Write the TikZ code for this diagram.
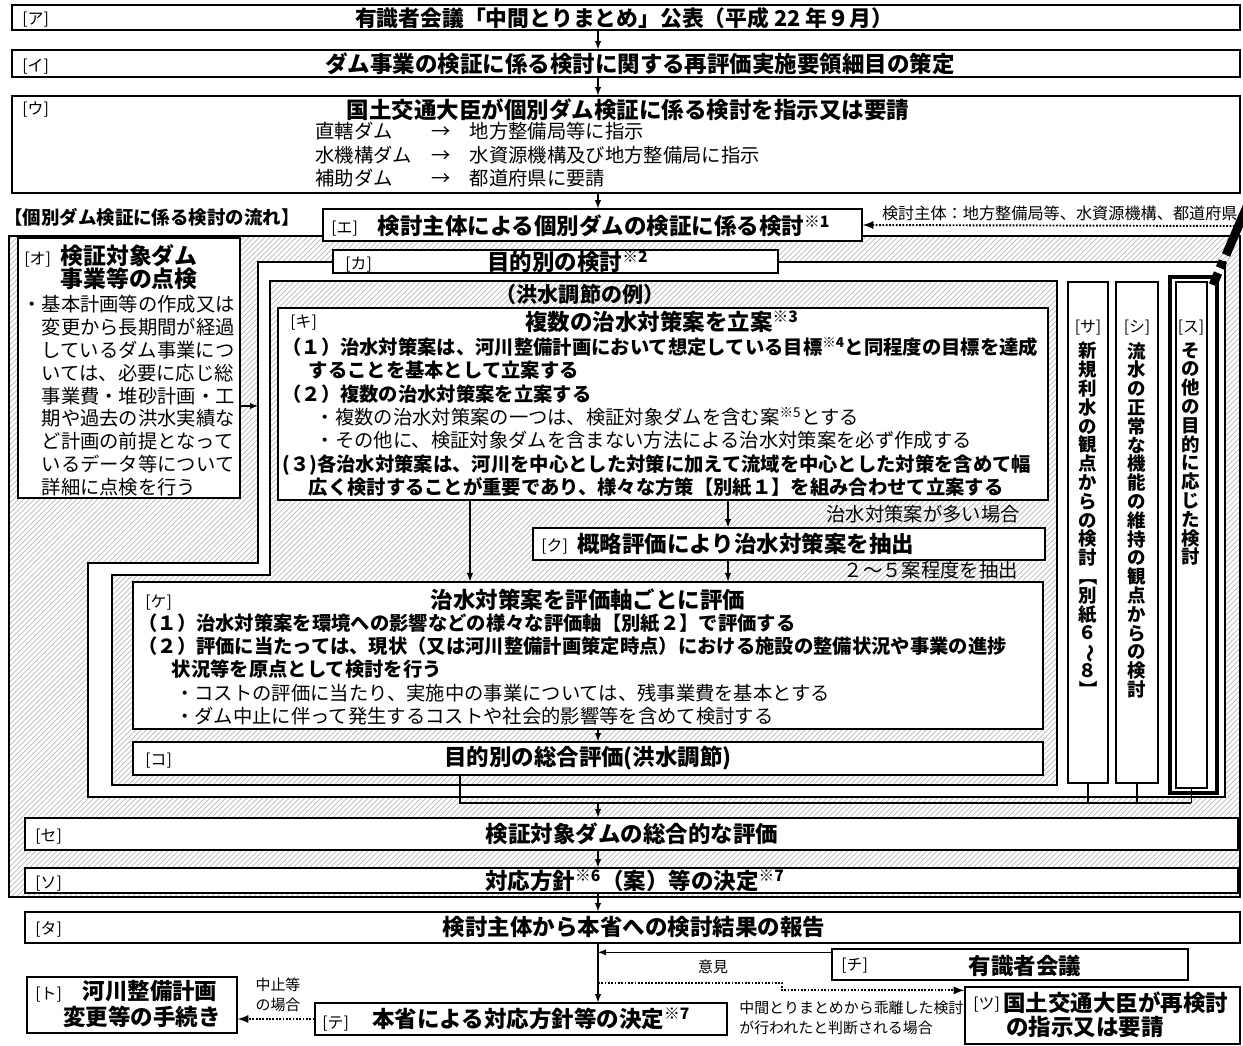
\documentclass[tikz,border=0pt]{standalone}
\usepackage{fontspec}
\setmainfont{Noto Sans CJK JP}
\usepackage{graphicx}
\usetikzlibrary{positioning}
\usetikzlibrary{fit}
\usetikzlibrary{patterns}
\newcommand{\kome}[1]{\textsuperscript{※#1}}
\newcommand{\tateparen}[1]{\rotatebox[origin=c]{-90}{#1}}
\tikzset{box/.style = {draw, line width=0.8pt, fill=white, inner sep=0pt}}
\tikzset{hatch/.style = {draw, line width=0.8pt, pattern=north east lines, pattern color=gray!55}}
\tikzset{tag/.style = {inner sep=0pt, yshift=-1.6pt, font=\fontsize{9}{10}\selectfont}}
\tikzset{head/.style = {inner sep=0pt, font=\bfseries\fontsize{12.8}{13.2}\selectfont}}
\tikzset{body/.style = {inner sep=0pt, align=left, font=\bfseries\fontsize{11}{13.3}\selectfont}}
\tikzset{thin-body/.style = {inner sep=0pt, align=left, font=\fontsize{11}{13}\selectfont}}
\tikzset{note/.style = {inner sep=0pt, align=left, font=\fontsize{8.5}{11.3}\selectfont}}
\tikzset{tate/.style = {inner sep=0pt, anchor=north, align=center, text width=12pt, font=\bfseries\fontsize{10.5}{10.7}\selectfont}}
\tikzset{arr/.style = {semithick, -latex}}
\tikzset{dotarr/.style = {line width=1.1pt, dash pattern=on 1pt off 0.9pt, -latex}}

\begin{document}
\begin{tikzpicture}[x=0.02cm, y=-0.02cm]
\useasboundingbox (0,0) rectangle (1243,1045);
\coordinate (spine) at (598,0);
\coordinate (kx1) at (470,0);
\coordinate (kx2) at (728,0);

% frames: outer hatched, white frame of [カ], hatched frame of the example
\node[hatch, inner sep=0pt, fit={(9,236) (1240,897)}] (outer) {};
\draw[fill=white, line width=0.8pt] (258,262) -- (1225,262) -- (1225,797) -- (88,797) -- (88,563) -- (258,563) -- cycle;
\draw[hatch] (270,281) -- (1057,281) -- (1057,785) -- (112,785) -- (112,575) -- (270,575) -- cycle;

\node[box, fit={(12,5) (1240,30)}] (kouhyou) {};
\node[tag, anchor=west] (tkouhyou) at (22,17) {[ア]};
\node[head, font=\bfseries\fontsize{12.4}{13}\selectfont] (hkouhyou) at (624,18) {有識者会議「中間とりまとめ」公表（平成 22 年９月）};

\node[box, fit={(12,50) (1240,77)}] (saimoku) {};
\node[tag, anchor=west] (tsaimoku) at (22,64) {[イ]};
\node[head] (hsaimoku) at (640,64) {ダム事業の検証に係る検討に関する再評価実施要領細目の策定};

\node[box, fit={(12,96) (1240,193)}] (shiji) {};
\node[tag, anchor=west] (tshiji) at (22,107) {[ウ]};
\node[head] (hshiji) at (628,110) {国土交通大臣が個別ダム検証に係る検討を指示又は要請};
\node[inner sep=0pt, anchor=north west, font=\fontsize{11}{13.3}\selectfont] (lshiji) at (315,122) {%
  \begin{tabular}{@{}p{66pt}@{}p{22pt}@{}l@{}}
  直轄ダム & → & 地方整備局等に指示\\
  水機構ダム & → & 水資源機構及び地方整備局に指示\\
  補助ダム & → & 都道府県に要請
  \end{tabular}};

\node[anchor=west, inner sep=0pt, font=\bfseries\fontsize{10.5}{12}\selectfont] (nagare) at (4,217) {【個別ダム検証に係る検討の流れ】};

\node[box, fit={(323,209) (862,241)}] (kentou) {};
\node[tag, anchor=west] (tkentou) at (331,226) {[エ]};
\node[head] (hkentou) at (604,226) {検討主体による個別ダムの検証に係る検討\kome{1}};
\node[inner sep=0pt, anchor=east, font=\fontsize{9.2}{10}\selectfont] (lshutai) at (1238,213) {検討主体：地方整備局等、水資源機構、都道府県};
\coordinate (shutai) at (1238,226);

\node[box, fit={(18,238) (240,498)}] (tenken) {};
\node[tag, anchor=west] (ttenken) at (24,257) {[オ]};
\node[head, align=center, font=\bfseries\fontsize{13}{13.2}\selectfont] (htenken) at (129,267) {検証対象ダム\\事業等の点検};
\node[thin-body, anchor=north west] (ltenken) at (22,295) {・基本計画等の作成又は\\
\hspace*{1em}変更から長期間が経過\\
\hspace*{1em}しているダム事業につ\\
\hspace*{1em}いては、必要に応じ総\\
\hspace*{1em}事業費・堆砂計画・工\\
\hspace*{1em}期や過去の洪水実績な\\
\hspace*{1em}ど計画の前提となって\\
\hspace*{1em}いるデータ等について\\
\hspace*{1em}詳細に点検を行う};
\coordinate (kaleft) at (258,406);

\node[box, fit={(333,250) (778,273)}] (mokuteki) {};
\node[tag, anchor=west] (tmokuteki) at (345,262) {[カ]};
\node[head] (hmokuteki) at (568,262) {目的別の検討\kome{2}};
\node[head, font=\bfseries\fontsize{12}{13}\selectfont] (rei) at (580,294) {（洪水調節の例）};

\node[box, fit={(278,308) (1048,500)}] (rian) {};
\node[tag, anchor=west] (trian) at (290,320) {[キ]};
\node[head] (hrian) at (662,322) {複数の治水対策案を立案\kome{3}};
\node[body, anchor=north west] (lrian) at (282,337) {%
（１）治水対策案は、河川整備計画において想定している目標\kome{4}と同程度の目標を達成\\
\hspace*{15pt}することを基本として立案する\\
（２）複数の治水対策案を立案する\\
\hspace*{19pt}{\mdseries ・複数の治水対策案の一つは、検証対象ダムを含む案\kome{5}とする}\\
\hspace*{19pt}{\mdseries ・その他に、検証対象ダムを含まない方法による治水対策案を必ず作成する}\\
(３)各治水対策案は、河川を中心とした対策に加えて流域を中心とした対策を含めて幅\\
\hspace*{15pt}広く検討することが重要であり、様々な方策【別紙１】を組み合わせて立案する};

\node[box, fit={(533,528) (1045,560)}] (chuushutsu) {};
\node[tag, anchor=west] (tchuushutsu) at (541,544) {[ク]};
\node[head, anchor=west] (hchuushutsu) at (577,544) {概略評価により治水対策案を抽出};
\node[thin-body, anchor=east] (ooi) at (1020,514) {治水対策案が多い場合};
\node[thin-body, anchor=east] (teido) at (1018,570) {２～５案程度を抽出};

\node[box, fit={(133,582) (1043,729)}] (hyouka) {};
\node[tag, anchor=west] (thyouka) at (145,600) {[ケ]};
\node[head] (hhyouka) at (588,600) {治水対策案を評価軸ごとに評価};
\node[body, anchor=north west] (lhyouka) at (138,613) {%
（１）治水対策案を環境への影響などの様々な評価軸【別紙２】で評価する\\
（２）評価に当たっては、現状（又は河川整備計画策定時点）における施設の整備状況や事業の進捗\\
\hspace*{19pt}状況等を原点として検討を行う\\
\hspace*{21pt}{\mdseries ・コストの評価に当たり、実施中の事業については、残事業費を基本とする}\\
\hspace*{21pt}{\mdseries ・ダム中止に伴って発生するコストや社会的影響等を含めて検討する}};

\node[box, fit={(133,742) (1043,775)}] (sougou) {};
\node[tag, anchor=west] (tsougou) at (145,758) {[コ]};
\node[head] (hsougou) at (588,758) {目的別の総合評価(洪水調節)};

% columns for the other purposes
\node[box, fit={(1068,282) (1108,783)}] (risui) {};
\node[tag] (trisui) at (1088,325) {[サ]};
\node[tate] (hrisui) at (1088,342) {新\\規\\利\\水\\の\\観\\点\\か\\ら\\の\\検\\討\\\tateparen{【}\\別\\紙\\６\\\tateparen{～}\\８\\\tateparen{】}};
\node[box, fit={(1116,282) (1158,783)}] (seijou) {};
\node[tag] (tseijou) at (1137,325) {[シ]};
\node[tate] (hseijou) at (1137,342) {流\\水\\の\\正\\常\\な\\機\\能\\の\\維\\持\\の\\観\\点\\か\\ら\\の\\検\\討};
\node[box, line width=2.2pt, fit={(1170,277) (1217,793)}] (sonota) {};
\node[draw, line width=0.8pt, inner sep=0pt, fit={(1176,282) (1207,788)}] (sonotain) {};
\node[tag] (tsonota) at (1191,325) {[ス]};
\node[tate] (hsonota) at (1191,342) {そ\\の\\他\\の\\目\\的\\に\\応\\じ\\た\\検\\討};

% pointer mark
\draw[line width=5pt] (1248,204) -- (1226,255);
\draw[line width=5pt] (1223,261) -- (1220,268);
\draw[line width=5pt] (1218,273) -- (1213,285);

\node[box, fit={(25,818) (1238,850)}] (damhyouka) {};
\node[tag, anchor=west] (tdamhyouka) at (35,834) {[セ]};
\node[head] (hdamhyouka) at (632,834) {検証対象ダムの総合的な評価};

\node[box, fit={(25,868) (1238,893)}] (houshin) {};
\node[tag, anchor=west] (thoushin) at (35,881) {[ソ]};
\node[head] (hhoushin) at (635,881) {対応方針\kome{6}（案）等の決定\kome{7}};

\node[box, fit={(25,912) (1240,943)}] (houkoku) {};
\node[tag, anchor=west] (thoukoku) at (35,927) {[タ]};
\node[head] (hhoukoku) at (634,927) {検討主体から本省への検討結果の報告};

\node[box, fit={(832,949) (1188,980)}] (yuushiki) {};
\node[tag, anchor=west] (tyuushiki) at (841,963) {[チ]};
\node[head] (hyuushiki) at (1025,966) {有識者会議};

\node[box, fit={(965,987) (1240,1044)}] (saikentou) {};
\node[tag, anchor=west] (tsaikentou) at (973,1002) {[ツ]};
\node[head, anchor=west] (hsaikentou) at (1003,1003) {国土交通大臣が再検討};
\node[head] (hsaikentou2) at (1085,1027) {の指示又は要請};

\node[box, fit={(315,1003) (727,1035)}] (kettei) {};
\node[tag, anchor=west] (tkettei) at (322,1021) {[テ]};
\node[head, anchor=west] (hkettei) at (372,1019) {本省による対応方針等の決定\kome{7}};

\node[box, fit={(27,977) (237,1033)}] (tetsuzuki) {};
\node[tag, anchor=west] (ttetsuzuki) at (35,992) {[ト]};
\node[head] (htetsuzuki) at (150,991) {河川整備計画};
\node[head] (htetsuzuki2) at (142,1017) {変更等の手続き};

\node[note] (iken) at (713,967) {意見};
\node[note, align=center] (chuushi) at (278,995) {中止等\\の場合};
\node[note, anchor=north west] (kairi) at (739,1001) {中間とりまとめから乖離した検討\\が行われたと判断される場合};

% connectors
\draw[arr] (kouhyou.south -| spine) -- (saimoku.north -| spine);
\draw[arr] (saimoku.south -| spine) -- (shiji.north -| spine);
\draw[arr] (shiji.south -| spine) -- (kentou.north -| spine);
\draw[dotarr] (shutai) -- (kentou.east);
\draw[arr] (kaleft -| tenken.east) -- (kaleft);
\draw[arr] (rian.south -| kx1) -- (hyouka.north -| kx1);
\draw[arr] (rian.south -| kx2) -- (chuushutsu.north -| kx2);
\draw[arr] (chuushutsu.south -| kx2) -- (hyouka.north -| kx2);
\draw[arr] (hyouka.south -| spine) -- (sougou.north -| spine);

\coordinate (matome) at (1191,803);
\coordinate (kout) at (460,803);
\draw[semithick] (kout |- sougou.south) -- (kout) -- (matome);
\draw[semithick] (risui.south) -- (risui.south |- matome);
\draw[semithick] (seijou.south) -- (seijou.south |- matome);
\draw[semithick] (sonotain.south) -- (sonotain.south |- matome);
\draw[arr] (spine |- matome) -- (spine |- damhyouka.north);
\draw[arr] (damhyouka.south -| spine) -- (houshin.north -| spine);
\draw[arr] (houshin.south -| spine) -- (houkoku.north -| spine);
\draw[arr] (houkoku.south -| spine) -- (kettei.north -| spine);

\coordinate (ikenin) at ([yshift=-2.3pt]yuushiki.north west);
\draw[arr] (ikenin) -- (ikenin -| spine);
\coordinate (kairifrom) at (598,983);
\coordinate (kairistep) at (782,983);
\coordinate (kairito) at ([yshift=-2.3pt]saikentou.north west);
\draw[dotarr] (kairifrom) -- (kairistep) |- (kairito);
\draw[dotarr] (kettei.west) -- (kettei.west -| tetsuzuki.east);

\end{tikzpicture}
\end{document}
